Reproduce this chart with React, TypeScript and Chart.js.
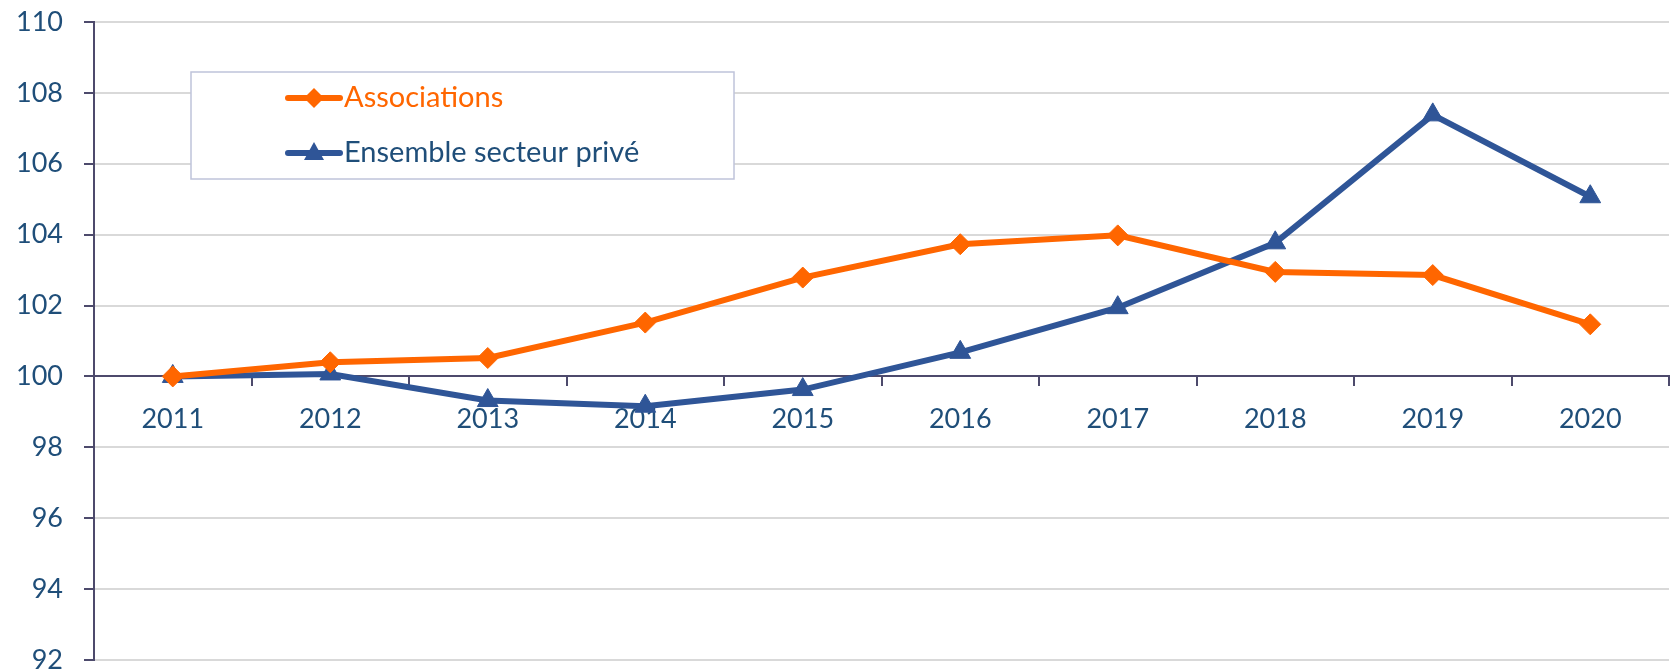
import React, { useEffect, useRef } from "react";
import { Chart, registerables } from "chart.js";

Chart.register(...registerables);

const years = ["2011", "2012", "2013", "2014", "2015", "2016", "2017", "2018", "2019", "2020"];
const associations = [100, 100.4, 100.52, 101.52, 102.79, 103.73, 103.98, 102.95, 102.86, 101.47];
const ensemble = [100, 100.07, 99.32, 99.16, 99.63, 100.68, 101.94, 103.77, 107.38, 105.07];
const seriesNames = ["Associations", "Ensemble secteur privé"];

const ORANGE = "#FF6600";
const BLUE = "#2F5597";
const TEXT = "#1F4E79";
const AXIS = "#4D4A6C";
const GRID = "#D9D9D9";
const FONT = "Lato";

const noPadding = () => ({ left: 0, top: 0, right: 0, bottom: 0 });

const legendBox = {
  id: "legendBox",
  afterDraw(chart: any) {
    const ctx = chart.ctx;
    ctx.save();
    const x0 = 191, y0 = 72, x1 = 734, y1 = 179;
    ctx.fillStyle = "#FFFFFF";
    ctx.fillRect(x0, y0, x1 - x0, y1 - y0);
    ctx.strokeStyle = "#BFC3DA";
    ctx.lineWidth = 1.5;
    ctx.strokeRect(x0, y0, x1 - x0, y1 - y0);
    const rows = [
      { y: 98, color: ORANGE, style: "diamond", text: seriesNames[0] },
      { y: 153, color: BLUE, style: "triangle", text: seriesNames[1] },
    ];
    rows.forEach((r) => {
      ctx.strokeStyle = r.color;
      ctx.fillStyle = r.color;
      ctx.lineWidth = 6;
      ctx.lineCap = "round";
      ctx.beginPath();
      ctx.moveTo(288, r.y);
      ctx.lineTo(340, r.y);
      ctx.stroke();
      const cx = 314;
      ctx.beginPath();
      if (r.style === "diamond") {
        ctx.moveTo(cx - 10, r.y);
        ctx.lineTo(cx, r.y - 10);
        ctx.lineTo(cx + 10, r.y);
        ctx.lineTo(cx, r.y + 10);
      } else {
        ctx.moveTo(cx - 10, r.y + 7);
        ctx.lineTo(cx, r.y - 11);
        ctx.lineTo(cx + 10, r.y + 7);
      }
      ctx.closePath();
      ctx.fill();
      ctx.font = `29px ${FONT}`;
      ctx.textBaseline = "middle";
      ctx.textAlign = "left";
      ctx.fillStyle = r.color === ORANGE ? ORANGE : TEXT;
      ctx.fillText(r.text, 344, r.y);
    });
    ctx.restore();
  },
};

export default function App() {
  const ref = useRef<HTMLCanvasElement>(null);
  useEffect(() => {
    if (!ref.current) return;
    const chart = new Chart(ref.current, {
      type: "line",
      data: {
        labels: years,
        datasets: [
          {
            label: seriesNames[0],
            data: associations,
            borderColor: ORANGE,
            backgroundColor: ORANGE,
            borderWidth: 6,
            pointStyle: "rectRot",
            pointRadius: 10.5,
            pointBorderWidth: 1,
            pointBorderColor: ORANGE,
            tension: 0,
          },
          {
            label: seriesNames[1],
            data: ensemble,
            borderColor: BLUE,
            backgroundColor: BLUE,
            borderWidth: 6,
            pointStyle: "triangle",
            pointRadius: 12,
            pointBorderWidth: 1,
            pointBorderColor: BLUE,
            tension: 0,
          },
        ],
      },
      options: {
        responsive: false,
        animation: false,
        layout: { autoPadding: false, padding: { left: 0, right: 4, top: 22, bottom: 11 } },
        plugins: { legend: { display: false }, tooltip: { enabled: false } },
        scales: {
          x: {
            position: { y: 100 } as any,
            offset: true,
            afterFit: (s: any) => {
              s.paddingLeft = 0;
              s.paddingRight = 0;
              s.paddingTop = 0;
              s.paddingBottom = 0;
              s.getPadding = noPadding;
            },
            grid: { display: true, drawOnChartArea: false, drawTicks: true, tickLength: 9, offset: true, tickColor: AXIS, lineWidth: 2 },
            border: { display: true, color: AXIS, width: 2 },
            ticks: { color: TEXT, font: { family: FONT, size: 27 }, padding: 18, maxRotation: 0 },
          },
          y: {
            min: 92,
            max: 110,
            afterFit: (s: any) => {
              s.width = 94;
              s.paddingTop = 0;
              s.paddingBottom = 0;
              s.getPadding = noPadding;
            },
            ticks: { stepSize: 2, color: TEXT, font: { family: FONT, size: 27 }, padding: 21 },
            grid: { color: GRID, lineWidth: 2, tickLength: 10, tickColor: AXIS },
            border: { display: true, color: AXIS, width: 2 },
          },
        },
      },
      plugins: [legendBox],
    });
    return () => chart.destroy();
  }, []);
  return (
    <div style={{ position: "fixed", left: 0, top: 0, width: 1673, height: 671, background: "#fff" }}>
      <canvas ref={ref} width={1673} height={671} style={{ width: 1673, height: 671, display: "block" }} />
    </div>
  );
}
